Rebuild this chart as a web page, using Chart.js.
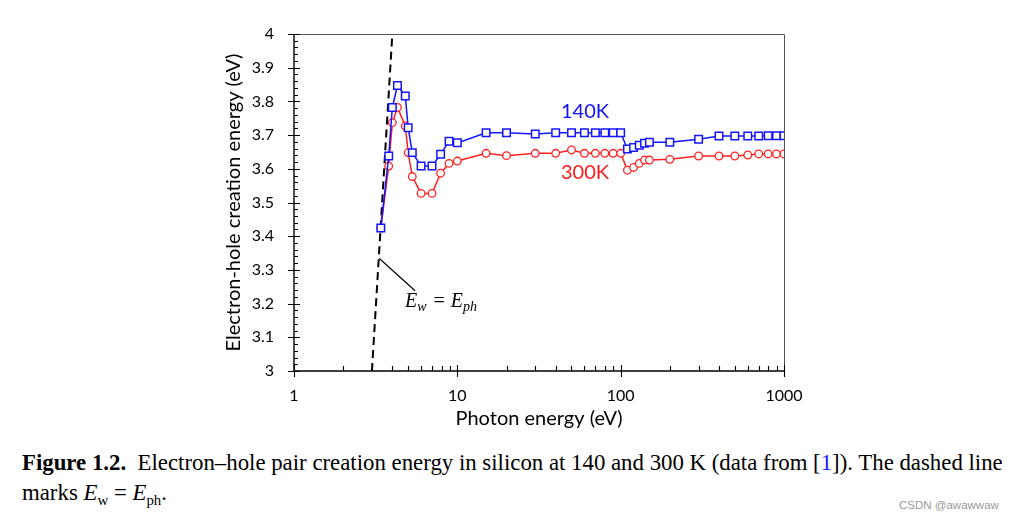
<!DOCTYPE html>
<html>
<head>
<meta charset="utf-8">
<title>Electron-hole pair creation energy in silicon</title>
<script src="https://cdn.jsdelivr.net/npm/chart.js@4.4.1/dist/chart.umd.min.js"></script>
<style>
  html, body { margin: 0; padding: 0; background: #fff; }
  body { width: 1017px; height: 522px; position: relative; overflow: hidden; }
  #chart { position: absolute; left: 0; top: 0; }
  .caption {
    position: absolute; left: 22px;
    font-family: "Liberation Serif", "Times New Roman", serif;
    font-size: 23px; line-height: 30px; white-space: pre; color: #000;
    transform-origin: 0 0;
  }
  .caption sub { font-size: 15px; vertical-align: -5px; line-height: 0; }
  .caption .ref { color: #1a1aff; }
  #cap1 { top: 448px; }
  #cap2 { top: 478px; }
  #mark {
    position: absolute; left: 899px; top: 499px;
    font-family: "Liberation Sans", Arial, sans-serif; font-size: 11.5px; color: #9a9a9a;
  }
</style>
</head>
<body>
<canvas id="chart" width="1017" height="440"></canvas>
<div class="caption" id="cap1"><b>Figure 1.2.</b>  Electron–hole pair creation energy in silicon at 140 and 300 K (data from [<span class="ref">1</span>]). The dashed line</div>
<div class="caption" id="cap2">marks <i>E</i><sub>w</sub> = <i>E</i><sub>ph</sub>.</div>
<div id="mark">CSDN @awawwaw</div>

<script>
// data
const photonEnergy = [3.4, 3.8, 4.0, 4.3, 4.8, 5.0, 5.3, 6.0, 7.0, 7.9, 8.9, 10,
  15, 20, 30, 40, 50, 60, 70, 80, 90, 100,
  110, 120, 130, 140, 150,
  200, 300, 400, 500, 600, 700, 800, 900, 1000];
const energy140K = [3.424, 3.638, 3.782, 3.847, 3.816, 3.722, 3.648, 3.608, 3.608, 3.643, 3.682, 3.677,
  3.707, 3.707, 3.703, 3.707, 3.707, 3.707, 3.707, 3.707, 3.707, 3.707,
  3.659, 3.663, 3.670, 3.676, 3.679,
  3.679, 3.688, 3.697, 3.697, 3.697, 3.697, 3.698, 3.698, 3.698];
const energy300K = [3.424, 3.608, 3.737, 3.782, 3.727, 3.648, 3.577, 3.527, 3.527, 3.587, 3.616, 3.623,
  3.646, 3.639, 3.646, 3.646, 3.656, 3.646, 3.646, 3.646, 3.646, 3.646,
  3.596, 3.604, 3.616, 3.626, 3.626,
  3.628, 3.638, 3.638, 3.638, 3.641, 3.644, 3.644, 3.644, 3.644];
// Ew = Eph line
const ewLineX = [3, 4];
const ewLineY = [3, 4];
const xTickValues = [1, 10, 100, 1000];

// where the text bits sit, in data units
const label140 = { x: 60.5, y: 3.769 };
const label300 = { x: 60.5, y: 3.588 };
const leaderFrom = { x: 3.33, y: 3.334 };
const leaderTo = { x: 5.51, y: 3.238 };
const ewTextAt = { x: 4.78, y: 3.19 };

const AXIS_FONT = 'Lato, "Open Sans", sans-serif';

function toPoints(xs, ys) {
  return xs.map((x, i) => ({ x: x, y: ys[i] }));
}

// ticks crossing the axes, minor ticks inside, frame, labels
const decor = {
  id: 'decor',
  afterDatasetsDraw(chart) {
    const ctx = chart.ctx;
    const xs = chart.scales.x, ys = chart.scales.y;
    const { left, right, top, bottom } = chart.chartArea;
    ctx.save();

    // frame top/right
    ctx.strokeStyle = '#555';
    ctx.lineWidth = 1;
    ctx.beginPath();
    ctx.moveTo(left, top + 0.5);
    ctx.lineTo(right + 0.5, top + 0.5);
    ctx.lineTo(right + 0.5, bottom);
    ctx.stroke();

    // axes
    ctx.strokeStyle = '#000';
    ctx.lineWidth = 1.4;
    ctx.beginPath();
    ctx.moveTo(left, top);
    ctx.lineTo(left, bottom);
    ctx.lineTo(right, bottom);
    ctx.stroke();

    ctx.lineWidth = 1.1;
    ctx.beginPath();
    // y ticks
    for (let i = 0; i <= 50; i++) {
      const py = Math.round(ys.getPixelForValue(3 + i * 0.02)) + 0.5;
      if (i % 5 === 0) {
        ctx.moveTo(left - 6, py); ctx.lineTo(left + 6, py);
      } else {
        ctx.moveTo(left, py); ctx.lineTo(left + 4, py);
      }
    }
    // x ticks
    xTickValues.forEach(v => {
      const px = Math.round(xs.getPixelForValue(v)) + 0.5;
      ctx.moveTo(px, bottom - 6); ctx.lineTo(px, bottom + 6);
      if (v < 1000) {
        for (let k = 2; k <= 9; k++) {
          const mx = Math.round(xs.getPixelForValue(v * k)) + 0.5;
          ctx.moveTo(mx, bottom); ctx.lineTo(mx, bottom - 5);
        }
      }
    });
    ctx.stroke();

    // series labels
    ctx.font = '20px ' + AXIS_FONT;
    ctx.textAlign = 'center';
    ctx.textBaseline = 'middle';
    ctx.fillStyle = '#1010ff';
    ctx.fillText('140K', xs.getPixelForValue(label140.x), ys.getPixelForValue(label140.y));
    ctx.fillStyle = '#ff1a1a';
    ctx.fillText('300K', xs.getPixelForValue(label300.x), ys.getPixelForValue(label300.y));

    // leader line + Ew = Eph
    ctx.strokeStyle = '#000';
    ctx.lineWidth = 1.2;
    ctx.beginPath();
    ctx.moveTo(xs.getPixelForValue(leaderFrom.x), ys.getPixelForValue(leaderFrom.y));
    ctx.lineTo(xs.getPixelForValue(leaderTo.x), ys.getPixelForValue(leaderTo.y));
    ctx.stroke();

    let tx = xs.getPixelForValue(ewTextAt.x);
    const ty = ys.getPixelForValue(ewTextAt.y);
    const big = 'italic 20px "Liberation Serif", serif';
    const small = 'italic 14px "Liberation Serif", serif';
    ctx.fillStyle = '#000';
    ctx.textAlign = 'left';
    ctx.textBaseline = 'alphabetic';
    ctx.font = big;
    ctx.fillText('E', tx, ty);
    tx += ctx.measureText('E').width;
    ctx.font = small;
    ctx.fillText('w', tx, ty + 4);
    tx += ctx.measureText('w').width + 7;
    ctx.font = '20px "Liberation Serif", serif';
    ctx.fillText('=', tx, ty);
    tx += ctx.measureText('=').width + 6;
    ctx.font = big;
    ctx.fillText('E', tx, ty);
    tx += ctx.measureText('E').width;
    ctx.font = small;
    ctx.fillText('ph', tx, ty + 4);

    ctx.restore();
  }
};

new Chart(document.getElementById('chart').getContext('2d'), {
  type: 'line',
  data: {
    datasets: [
      {
        label: '140K',
        data: toPoints(photonEnergy, energy140K),
        borderColor: '#1414ff',
        borderWidth: 1.5,
        pointStyle: 'rect',
        pointRadius: 5.3,
        pointBorderWidth: 1.5,
        pointBackgroundColor: '#fff',
        order: 1
      },
      {
        label: '300K',
        data: toPoints(photonEnergy, energy300K),
        borderColor: '#ff2020',
        borderWidth: 1.5,
        pointStyle: 'circle',
        pointRadius: 3.8,
        pointBorderWidth: 1.3,
        pointBackgroundColor: '#fff',
        order: 2
      },
      {
        label: 'Ew = Eph',
        data: toPoints(ewLineX, ewLineY),
        borderColor: '#000',
        borderWidth: 2,
        borderDash: [8, 5],
        pointRadius: 0,
        order: 3
      }
    ]
  },
  options: {
    responsive: false,
    animation: false,
    layout: { padding: { left: 222, right: 233, top: 34, bottom: 9 } },
    plugins: { legend: { display: false }, tooltip: { enabled: false } },
    scales: {
      x: {
        type: 'logarithmic',
        min: 1,
        max: 1000,
        afterBuildTicks: scale => { scale.ticks = xTickValues.map(v => ({ value: v })); },
        afterFit: scale => { scale.height = 60; },
        grid: { display: false, drawTicks: false },
        border: { display: false },
        ticks: {
          padding: 15,
          color: '#000',
          font: { family: AXIS_FONT, size: 16 },
          maxRotation: 0,
          callback: v => String(v)
        },
        title: {
          display: true,
          text: 'Photon energy (eV)',
          color: '#000',
          font: { family: AXIS_FONT, size: 20 },
          padding: 0
        }
      },
      y: {
        min: 3,
        max: 4,
        afterFit: scale => { scale.width = 72; },
        grid: { display: false, drawTicks: false },
        border: { display: false },
        ticks: {
          stepSize: 0.1,
          padding: 20,
          color: '#000',
          font: { family: AXIS_FONT, size: 16 },
          callback: v => String(Number(v.toFixed(1)))
        },
        title: {
          display: true,
          text: 'Electron-hole creation energy (eV)',
          color: '#000',
          font: { family: AXIS_FONT, size: 20 },
          padding: 0
        }
      }
    }
  },
  plugins: [decor]
});

// squeeze caption lines to the figure's width
const cap1 = document.getElementById('cap1');
const cap2 = document.getElementById('cap2');
const k = 981 / cap1.offsetWidth;
cap1.style.transform = 'scaleX(' + k + ')';
cap2.style.transform = 'scaleX(' + k + ')';
</script>
</body>
</html>
